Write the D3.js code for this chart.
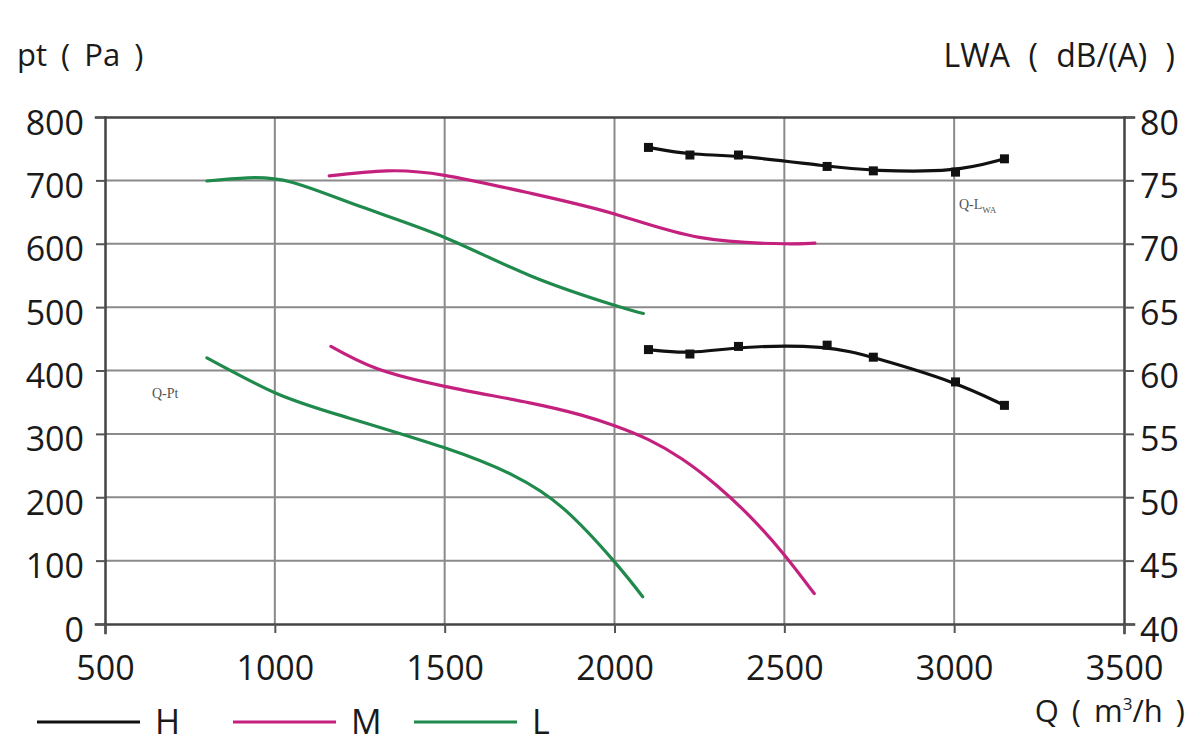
<!DOCTYPE html>
<html>
<head>
<meta charset="utf-8">
<script src="https://cdn.jsdelivr.net/npm/d3@7"></script>
<style>
  body { margin: 0; background: #fff; }
  svg { display: block; }
  svg text { font-family: "Open Sans", "Noto Sans", sans-serif; }
</style>
</head>
<body>
<div id="chart"></div>
<script>
// tick values
const flowTicks = [500, 1000, 1500, 2000, 2500, 3000, 3500];
const ptTicks = [0, 100, 200, 300, 400, 500, 600, 700, 800];
const lwaTicks = [40, 45, 50, 55, 60, 65, 70, 75, 80];

// H speed (measured points, black squares)
const flowH = [2100, 2222, 2365, 2626, 2762, 3004, 3148];
const ptH = [433, 426, 438, 440, 421, 382, 345];
const lwaH = [77.6, 77.0, 77.0, 76.1, 75.75, 75.65, 76.7];

// M speed
const flowPtM = [1165, 1300, 1500, 1750, 1900, 2000, 2100, 2200, 2300, 2400, 2500, 2588];
const ptM = [438, 403, 375, 349, 330, 313, 291, 260, 219, 169, 109, 48];
const flowLwaM = [1160, 1330, 1500, 1750, 2000, 2250, 2500, 2590];
const lwaM = [75.35, 75.75, 75.4, 74.0, 72.35, 70.5, 70.0, 70.05];

// L speed
const flowPtL = [800, 1000, 1200, 1500, 1700, 1850, 2000, 2083];
const ptL = [420, 365, 328, 278, 235, 182, 98, 43];
const flowLwaL = [800, 920, 1050, 1250, 1500, 1750, 2000, 2085];
const lwaL = [74.95, 75.2, 74.85, 72.95, 70.5, 67.5, 65.15, 64.5];

const legendNames = ["H", "M", "L"];
const colors = { H: "#111111", M: "#c4217f", L: "#1f8a4c" };

const width = 1200, height = 754;
const margin = { left: 105, right: 76, top: 117, bottom: 130 };
const fontStack = "'Open Sans', 'Noto Sans', sans-serif";

const svg = d3.select("#chart").append("svg")
    .attr("width", width)
    .attr("height", height);

const x = d3.scaleLinear().domain([500, 3500]).range([margin.left, width - margin.right]);
const yPt = d3.scaleLinear().domain([0, 800]).range([height - margin.bottom, margin.top]);
const yLwa = d3.scaleLinear().domain([40, 80]).range([height - margin.bottom, margin.top]);

// grid
const grid = svg.append("g").attr("stroke", "#8a8a8a").attr("stroke-width", 2);
grid.selectAll("line.v")
    .data(flowTicks.slice(1, -1))
    .enter().append("line")
    .attr("x1", d => x(d)).attr("x2", d => x(d))
    .attr("y1", yPt(800)).attr("y2", yPt(0));
grid.selectAll("line.h")
    .data(ptTicks.slice(1, -1))
    .enter().append("line")
    .attr("x1", x(500)).attr("x2", x(3500))
    .attr("y1", d => yPt(d)).attr("y2", d => yPt(d));

// axes
const fmt = d3.format("d");
const axisLeft = d3.axisLeft(yPt).tickValues(ptTicks).tickFormat(fmt).tickSize(9).tickPadding(12);
const axisRight = d3.axisRight(yLwa).tickValues(lwaTicks).tickFormat(fmt).tickSize(10).tickPadding(6);
const axisBottom = d3.axisBottom(x).tickValues(flowTicks).tickFormat(fmt).tickSize(9).tickPadding(23);
const axisTop = d3.axisTop(x).tickValues([]).tickSize(0);

function styleAxis(g) {
    g.attr("font-family", fontStack);
    g.select(".domain").attr("stroke", "#444").attr("stroke-width", 2.5);
    g.selectAll(".tick line").attr("stroke", "#555").attr("stroke-width", 2);
    g.selectAll(".tick text").attr("fill", "#1a1a1a").attr("font-size", 34);
}

svg.append("g").attr("transform", `translate(${x(500)},0)`).call(axisLeft).call(styleAxis)
    .selectAll(".tick text").attr("dy", "0.5em");
svg.append("g").attr("transform", `translate(${x(3500)},0)`).call(axisRight).call(styleAxis)
    .selectAll(".tick text").attr("dy", "0.5em");
svg.append("g").attr("transform", `translate(0,${yPt(0)})`).call(axisBottom).call(styleAxis)
    .selectAll(".tick text").attr("dy", "0.72em");
svg.append("g").attr("transform", `translate(0,${yPt(800)})`).call(axisTop).call(styleAxis);
svg.selectAll(".domain").attr("stroke-linecap", "square");

// curves
function drawCurve(xs, ys, yScale, color, curve) {
    const pts = xs.map((v, i) => [v, ys[i]]);
    svg.append("path")
        .datum(pts)
        .attr("fill", "none")
        .attr("stroke", color)
        .attr("stroke-width", 3.2)
        .attr("stroke-linecap", "round")
        .attr("d", d3.line().x(d => x(d[0])).y(d => yScale(d[1])).curve(curve));
}

drawCurve(flowLwaL, lwaL, yLwa, colors.L, d3.curveNatural);
drawCurve(flowLwaM, lwaM, yLwa, colors.M, d3.curveNatural);
drawCurve(flowPtL, ptL, yPt, colors.L, d3.curveNatural);
drawCurve(flowPtM, ptM, yPt, colors.M, d3.curveNatural);
drawCurve(flowH, ptH, yPt, colors.H, d3.curveBasis);
drawCurve(flowH, lwaH, yLwa, colors.H, d3.curveBasis);

// markers on H
function drawMarkers(xs, ys, yScale) {
    svg.append("g").selectAll("rect")
        .data(xs.map((v, i) => [v, ys[i]]))
        .enter().append("rect")
        .attr("x", d => x(d[0]) - 4.5)
        .attr("y", d => yScale(d[1]) - 4.5)
        .attr("width", 9).attr("height", 9)
        .attr("fill", colors.H);
}
drawMarkers(flowH, ptH, yPt);
drawMarkers(flowH, lwaH, yLwa);

// axis titles
svg.append("text").attr("x", 17).attr("y", 66)
    .attr("font-size", 31).attr("fill", "#1a1a1a")
    .attr("word-spacing", 6)
    .text("pt ( Pa )");
svg.append("text").attr("x", 1175).attr("y", 67)
    .attr("text-anchor", "end")
    .attr("font-size", 32).attr("fill", "#1a1a1a")
    .attr("word-spacing", 10)
    .text("LWA ( dB/(A) )");
const qTitle = svg.append("text").attr("x", 1185).attr("y", 722)
    .attr("text-anchor", "end")
    .attr("font-size", 31).attr("fill", "#1a1a1a")
    .attr("word-spacing", 5);
qTitle.append("tspan").text("Q ( m");
qTitle.append("tspan").attr("font-size", 17).attr("dy", -12).text("3");
qTitle.append("tspan").attr("dy", 12).text("/h )");

// curve labels
svg.append("text").attr("x", 152).attr("y", 398)
    .style("font-family", "'Liberation Serif', 'DejaVu Serif', serif")
    .attr("font-size", 14).attr("fill", "#555")
    .text("Q-Pt");
const lwaLabel = svg.append("text").attr("x", 959).attr("y", 209)
    .style("font-family", "'Liberation Serif', 'DejaVu Serif', serif")
    .attr("font-size", 14).attr("fill", "#555");
lwaLabel.append("tspan").text("Q-L");
lwaLabel.append("tspan").attr("font-size", 9).attr("dy", 4).text("WA");

// legend
const legendX = [37, 233, 414];
const legend = svg.append("g").selectAll("g")
    .data(legendNames)
    .enter().append("g")
    .attr("transform", (d, i) => `translate(${legendX[i]},722)`);
legend.append("line")
    .attr("x1", 0).attr("x2", 103)
    .attr("stroke", d => colors[d])
    .attr("stroke-width", 3);
legend.append("text")
    .attr("x", 118).attr("y", 12)
    .attr("font-size", 34).attr("fill", "#1a1a1a")
    .text(d => d);
</script>
</body>
</html>
